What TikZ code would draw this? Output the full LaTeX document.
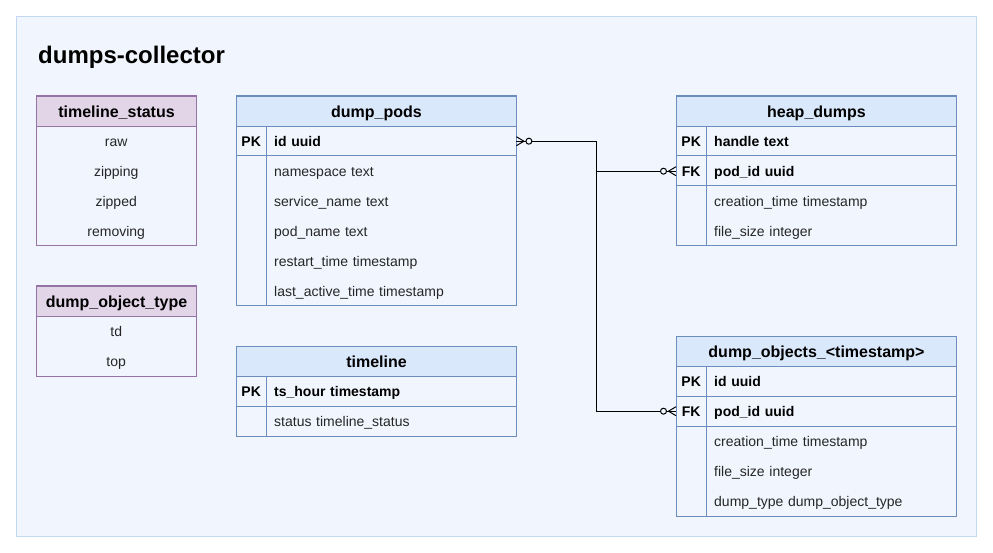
\documentclass[tikz,border=0pt]{standalone}
\usepackage{fontspec}
\setmainfont{Liberation Sans}
\usetikzlibrary{calc}
\definecolor{bgfill}{HTML}{F1F6FE}
\definecolor{bgline}{HTML}{C3D7F0}
\definecolor{bhead}{HTML}{DAE8FC}
\definecolor{bline}{HTML}{6C8EBF}
\definecolor{phead}{HTML}{E1D5E7}
\definecolor{pline}{HTML}{9673A6}
\tikzset{
  hdr/.style={draw=bline, fill=bhead, line width=1pt, inner sep=0pt, minimum height=30pt,
    font=\fontsize{16}{16}\selectfont\bfseries, text height=11.5pt, text depth=0pt, anchor=north west},
  phdr/.style={hdr, draw=pline, fill=phead},
  tbl/.style={draw=bline, line width=1pt},
  ptbl/.style={draw=pline, line width=1pt},
  keycell/.style={inner sep=0pt, minimum width=30pt, minimum height=30pt,
    font=\fontsize{14}{14}\selectfont\bfseries, text height=10pt, text depth=0pt, anchor=north west},
  fieldcell/.style={inner xsep=8pt, inner ysep=0pt, text width=234pt, align=left, minimum height=30pt,
    font=\fontsize{14}{14}\selectfont, text height=10pt, text depth=0pt, anchor=north west, text=black!85},
  keyfield/.style={fieldcell, font=\fontsize{14}{14}\selectfont\bfseries, text=black},
  enumcell/.style={inner sep=0pt, minimum width=160pt, minimum height=30pt,
    font=\fontsize{14}{14}\selectfont, text height=10pt, text depth=0pt, anchor=north west, text=black!85},
  conn/.style={draw=black, line width=1pt},
}
\newcommand\crowend[2]{%
  \draw[conn] ($(#1)+(0,-4.5)$) -- ++({(#2)*7.5},4.5) -- ++({-(#2)*7.5},4.5);
  \draw[conn, fill=bgfill] ($(#1)+({(#2)*12.5},0)$) circle (3pt);
}
\begin{document}
\begin{tikzpicture}[x=1pt,y=-1pt]
\useasboundingbox (0,0) rectangle (993,553);
\fill[white] (0,0) rectangle (993,553);
\draw[draw=bgline, fill=bgfill, line width=1pt] (16.5,16.5) rectangle (976,536);
\node[anchor=base west, inner sep=0pt, font=\fontsize{24}{24}\selectfont\bfseries] (title) at (38,64) {dumps-collector};

% timeline_status
\draw[ptbl] (36,96) rectangle (196,246);
\node[phdr, minimum width=160pt] (ts) at (36,96) {timeline\_status};
\node[enumcell] (ts1) at (36,126) {raw};
\node[enumcell] (ts2) at (36,156) {zipping};
\node[enumcell] (ts3) at (36,186) {zipped};
\node[enumcell] (ts4) at (36,216) {removing};

% dump_object_type
\draw[ptbl] (36,286) rectangle (196,376);
\node[phdr, minimum width=160pt] (dot) at (36,286) {dump\_object\_type};
\node[enumcell] (dot1) at (36,316) {td};
\node[enumcell] (dot2) at (36,346) {top};

% dump_pods
\draw[tbl] (236,96) rectangle (516,306);
\draw[tbl] (266,126) -- (266,306);
\draw[tbl] (236,156) -- (516,156);
\node[hdr, minimum width=280pt] (dp) at (236,96) {dump\_pods};
\node[keycell] (dp-k1) at (236,126) {PK};
\node[keyfield] (dp-id) at (266,126) {id uuid};
\node[fieldcell] (dp-f1) at (266,156) {namespace text};
\node[fieldcell] (dp-f2) at (266,186) {service\_name text};
\node[fieldcell] (dp-f3) at (266,216) {pod\_name text};
\node[fieldcell] (dp-f4) at (266,246) {restart\_time timestamp};
\node[fieldcell] (dp-f5) at (266,276) {last\_active\_time timestamp};

% timeline
\draw[tbl] (236,346) rectangle (516,436);
\draw[tbl] (266,376) -- (266,436);
\draw[tbl] (236,406) -- (516,406);
\node[hdr, minimum width=280pt] (tl) at (236,346) {timeline};
\node[keycell] (tl-k1) at (236,376) {PK};
\node[keyfield] (tl-ts) at (266,376) {ts\_hour timestamp};
\node[fieldcell] (tl-f1) at (266,406) {status timeline\_status};

% heap_dumps
\draw[tbl] (676,96) rectangle (956,246);
\draw[tbl] (706,126) -- (706,246);
\draw[tbl] (676,156) -- (956,156);
\draw[tbl] (676,186) -- (956,186);
\node[hdr, minimum width=280pt] (hd) at (676,96) {heap\_dumps};
\node[keycell] (hd-k1) at (676,126) {PK};
\node[keyfield] (hd-h) at (706,126) {handle text};
\node[keycell] (hd-k2) at (676,156) {FK};
\node[keyfield] (hd-pod) at (706,156) {pod\_id uuid};
\node[fieldcell] (hd-f1) at (706,186) {creation\_time timestamp};
\node[fieldcell] (hd-f2) at (706,216) {file\_size integer};

% dump_objects
\draw[tbl] (676,336) rectangle (956,516);
\draw[tbl] (706,366) -- (706,516);
\draw[tbl] (676,396) -- (956,396);
\draw[tbl] (676,426) -- (956,426);
\node[hdr, minimum width=280pt] (do) at (676,336) {dump\_objects\_<timestamp>};
\node[keycell] (do-k1) at (676,366) {PK};
\node[keyfield] (do-id) at (706,366) {id uuid};
\node[keycell] (do-k2) at (676,396) {FK};
\node[keyfield] (do-pod) at (706,396) {pod\_id uuid};
\node[fieldcell] (do-f1) at (706,426) {creation\_time timestamp};
\node[fieldcell] (do-f2) at (706,456) {file\_size integer};
\node[fieldcell] (do-f3) at (706,486) {dump\_type dump\_object\_type};

% connectors
\draw[conn] (dp-id.east) -- ++(80,0) coordinate (j) |- (hd-k2.west);
\draw[conn] (j) |- (do-k2.west);
\crowend{dp-id.east}{1}
\crowend{hd-k2.west}{-1}
\crowend{do-k2.west}{-1}
\end{tikzpicture}
\end{document}
